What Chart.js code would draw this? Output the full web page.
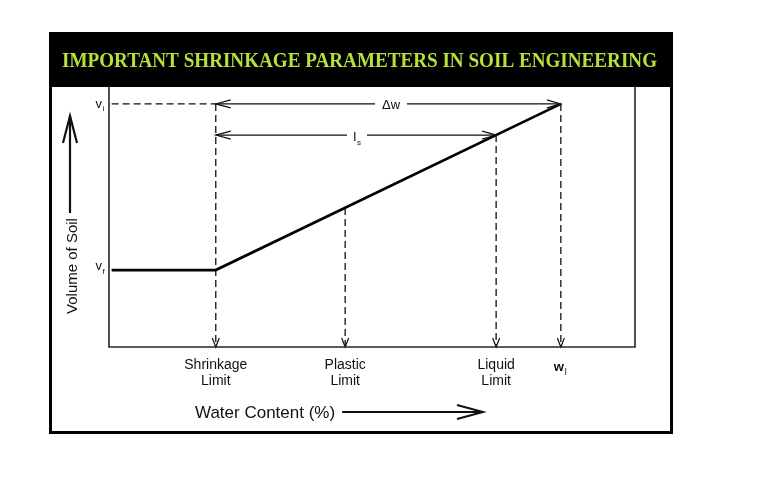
<!DOCTYPE html>
<html>
<head>
<meta charset="utf-8">
<script src="https://cdn.jsdelivr.net/npm/chart.js@4/dist/chart.umd.min.js"></script>
<style>
  html, body { margin: 0; padding: 0; background: #ffffff; }
  #wrap { width: 759px; height: 480px; }
</style>
</head>
<body>
<div id="wrap"><canvas id="c" width="759" height="480"></canvas></div>
<script>
// ---- Data (conceptual units) ----
const titleText = "IMPORTANT SHRINKAGE PARAMETERS IN SOIL ENGINEERING";
const yAxisLabel = "Volume of Soil";
const xAxisLabel = "Water Content (%)";
const limitLabels = [["Shrinkage", "Limit"], ["Plastic", "Limit"], ["Liquid", "Limit"]];
// water content at shrinkage, plastic, liquid limits and w_l
const limitWater = [20.3, 44.9, 73.6, 85.9];
// soil volume where each limit meets the curve
const limitVolume = [29.6, 53.5, 81.5, 93.5];
// volume curve
const curveWater = [0.5, 20.3, 85.9];
const curveVolume = [29.6, 29.6, 93.5];
const volInitial = 93.5;   // v_i
const volFinal = 29.6;     // v_f
const xRange = [0, 100];
const yRange = [0, 100];

const pts = (xs, ys) => xs.map((x, i) => ({ x: x, y: ys[i] }));

const datasets = [];
// main volume curve
datasets.push({ data: pts(curveWater, curveVolume), borderColor: '#000', borderWidth: 2.7, pointRadius: 0, tension: 0 });
// v_i dashed horizontal
datasets.push({ data: pts([curveWater[0], limitWater[0]], [volInitial, volInitial]), borderColor: '#111', borderWidth: 1.3, borderDash: [7, 4], pointRadius: 0 });
// vertical dashed lines at each limit
limitWater.forEach((w, i) => {
  const top = i === 0 ? volInitial : limitVolume[i];
  datasets.push({ data: pts([w, w], [top, yRange[0]]), borderColor: '#111', borderWidth: 1.3, borderDash: [7, 4], pointRadius: 0 });
});
// dimension lines: Δw (SL -> w_l at v_i) and I_s (SL -> LL)
datasets.push({ data: pts([limitWater[0], limitWater[3]], [volInitial, volInitial]), borderColor: '#111', borderWidth: 1.2, pointRadius: 0 });
datasets.push({ data: pts([limitWater[0], limitWater[2]], [limitVolume[2], limitVolume[2]]), borderColor: '#111', borderWidth: 1.2, pointRadius: 0 });

const SANS = '"Liberation Sans", Arial, sans-serif';

function chevron(ctx, tx, ty, dx, dy, len, half) {
  // open arrowhead with tip at (tx,ty), pointing in direction (dx,dy)
  const px = -dy, py = dx;
  ctx.beginPath();
  ctx.moveTo(tx - dx * len + px * half, ty - dy * len + py * half);
  ctx.lineTo(tx, ty);
  ctx.lineTo(tx - dx * len - px * half, ty - dy * len - py * half);
  ctx.stroke();
}

const deco = {
  id: 'deco',
  beforeDraw(chart) {
    const ctx = chart.ctx;
    ctx.save();
    ctx.fillStyle = '#ffffff';
    ctx.fillRect(0, 0, chart.width, chart.height);
    ctx.restore();
  },
  afterDatasetsDraw(chart) {
    const ctx = chart.ctx;
    const xs = chart.scales.x, ys = chart.scales.y;
    const X = v => xs.getPixelForValue(v), Y = v => ys.getPixelForValue(v);
    const a = chart.chartArea;
    ctx.save();
    ctx.strokeStyle = '#111';
    ctx.lineWidth = 1.2;
    // arrowheads at bottom of the vertical dashed lines
    limitWater.forEach(w => chevron(ctx, X(w), a.bottom, 0, 1, 9, 3.5));
    // dimension arrows
    chevron(ctx, X(limitWater[0]), Y(volInitial), -1, 0, 15, 4);
    chevron(ctx, X(limitWater[3]), Y(volInitial), 1, 0, 14, 4);
    chevron(ctx, X(limitWater[0]), Y(limitVolume[2]), -1, 0, 15, 4);
    chevron(ctx, X(limitWater[2]), Y(limitVolume[2]), 1, 0, 14, 4);

    // labels on dimension lines (white background)
    ctx.fillStyle = '#fff';
    ctx.fillRect(375, Y(volInitial) - 6, 32, 12);
    ctx.fillRect(347, Y(limitVolume[2]) - 6, 20, 12);
    ctx.fillStyle = '#111';
    ctx.font = '13px ' + SANS;
    ctx.textAlign = 'center';
    ctx.textBaseline = 'alphabetic';
    ctx.fillText('\u0394w', 391, Y(volInitial) + 5);
    ctx.textAlign = 'left';
    ctx.fillText('I', 353, Y(limitVolume[2]) + 6);
    ctx.font = '8px ' + SANS;
    ctx.fillText('s', 357, Y(limitVolume[2]) + 10);

    // box lines (left, bottom, right)
    ctx.strokeStyle = '#262626';
    ctx.lineWidth = 1.6;
    ctx.beginPath();
    ctx.moveTo(a.left, a.top);
    ctx.lineTo(a.left, a.bottom);
    ctx.lineTo(a.right, a.bottom);
    ctx.lineTo(a.right, a.top);
    ctx.stroke();

    // v_i and v_f labels
    ctx.fillStyle = '#111';
    ctx.font = '13px ' + SANS;
    ctx.textAlign = 'right';
    ctx.fillText('v', 102, Y(volInitial) + 4);
    ctx.fillText('v', 102, Y(volFinal));
    ctx.font = '8px ' + SANS;
    ctx.textAlign = 'left';
    ctx.fillText('i', 102.5, Y(volInitial) + 7);
    ctx.fillText('f', 102.5, Y(volFinal) + 4);

    // limit labels under the axis
    ctx.font = '14px ' + SANS;
    ctx.textAlign = 'center';
    limitLabels.forEach((lines, i) => {
      ctx.fillText(lines[0], X(limitWater[i]), 369);
      ctx.fillText(lines[1], X(limitWater[i]), 385);
    });
    ctx.font = 'bold 13px ' + SANS;
    ctx.textAlign = 'right';
    ctx.fillText('w', X(limitWater[3]) + 3, 371);
    ctx.font = '9px ' + SANS;
    ctx.textAlign = 'left';
    ctx.fillText('l', X(limitWater[3]) + 4, 375);

    // x-axis label with arrow
    ctx.font = '17px ' + SANS;
    ctx.textAlign = 'left';
    ctx.fillText(xAxisLabel, 195, 418);
    const tw = ctx.measureText(xAxisLabel).width;
    ctx.strokeStyle = '#111';
    ctx.lineWidth = 2;
    ctx.beginPath();
    ctx.moveTo(195 + tw + 7, 412);
    ctx.lineTo(483, 412);
    ctx.stroke();
    chevron(ctx, 483, 412, 1, 0, 26, 7);

    // y-axis label with arrow
    ctx.save();
    ctx.translate(77, 266);
    ctx.rotate(-Math.PI / 2);
    ctx.font = '15px ' + SANS;
    ctx.textAlign = 'center';
    ctx.fillText(yAxisLabel, 0, 0);
    ctx.restore();
    ctx.lineWidth = 2.2;
    ctx.beginPath();
    ctx.moveTo(70, 213);
    ctx.lineTo(70, 116);
    ctx.stroke();
    chevron(ctx, 70, 116, 0, -1, 27, 7);

    // outer frame + title band
    ctx.fillStyle = '#000';
    ctx.fillRect(49, 32, 624, 55);
    ctx.strokeStyle = '#000';
    ctx.lineWidth = 3;
    ctx.strokeRect(50.5, 33.5, 621, 399);
    ctx.fillStyle = '#b5e23a';
    ctx.font = 'bold 21px "Liberation Serif", "Times New Roman", serif';
    ctx.textAlign = 'center';
    ctx.fillText(titleText, 359.5, 66.5, 595);
    ctx.restore();
  }
};

new Chart(document.getElementById('c'), {
  type: 'line',
  data: { datasets: datasets },
  options: {
    responsive: false,
    animation: false,
    devicePixelRatio: 1,
    layout: { padding: { left: 109, right: 124, top: 87, bottom: 133 } },
    plugins: { legend: { display: false }, tooltip: { enabled: false }, title: { display: false } },
    scales: {
      x: { type: 'linear', min: xRange[0], max: xRange[1], display: false },
      y: { type: 'linear', min: yRange[0], max: yRange[1], display: false }
    },
    elements: { line: { fill: false } }
  },
  plugins: [deco]
});
</script>
</body>
</html>
